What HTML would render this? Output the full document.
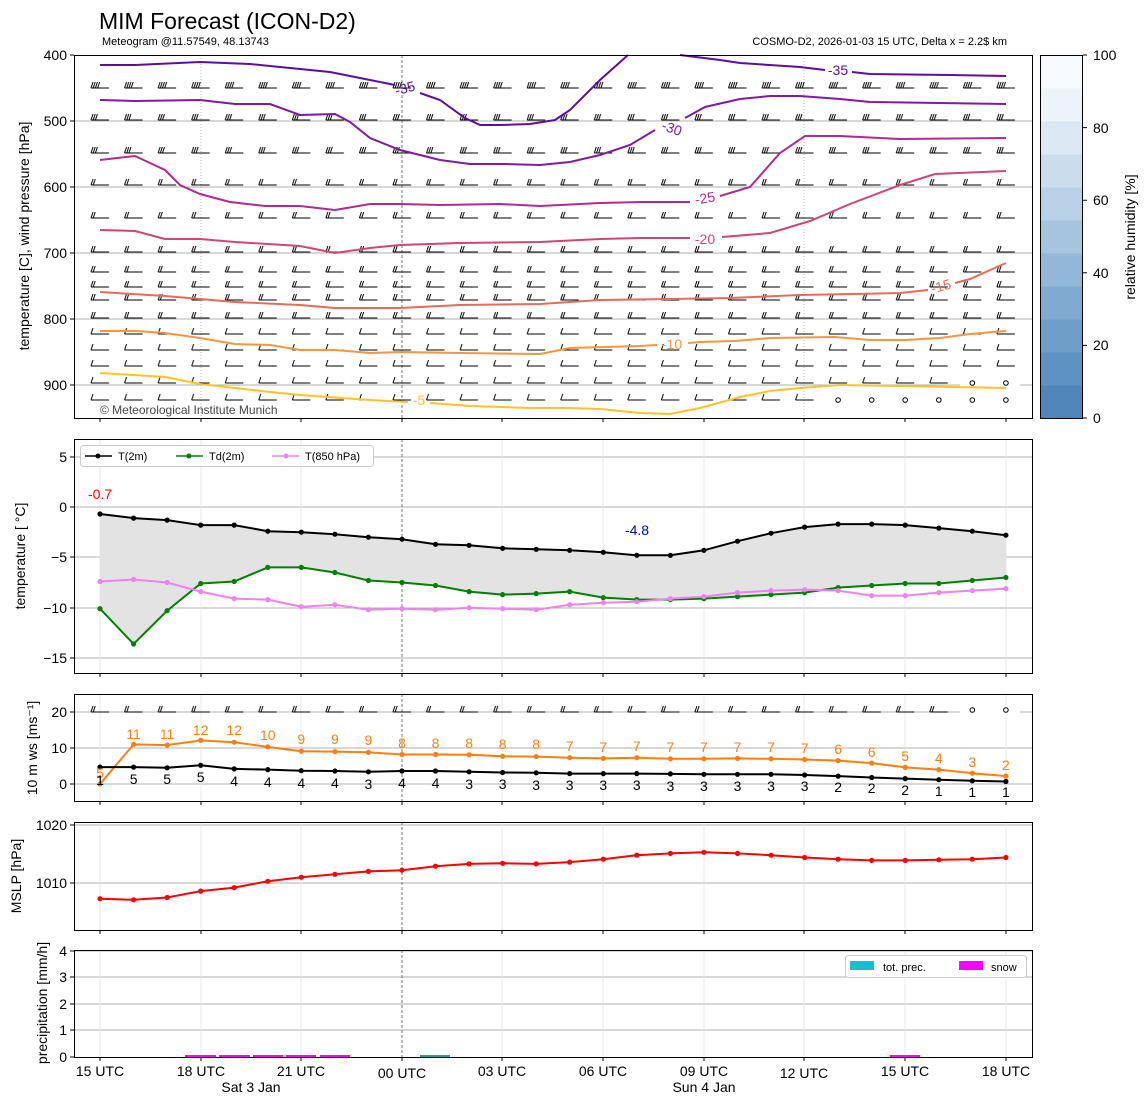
<!DOCTYPE html>
<html><head><meta charset="utf-8"><style>
body{margin:0;background:#fff;}
svg{display:block;font-family:"Liberation Sans","DejaVu Sans",sans-serif;}
</style></head><body>
<svg width="1148" height="1105" xmlns="http://www.w3.org/2000/svg" xmlns:xlink="http://www.w3.org/1999/xlink">
<defs>
<marker id="mk" markerWidth="8" markerHeight="8" refX="4" refY="4" markerUnits="userSpaceOnUse"><circle cx="4" cy="4" r="2.6" fill="#000"/></marker>
<marker id="mg" markerWidth="8" markerHeight="8" refX="4" refY="4" markerUnits="userSpaceOnUse"><circle cx="4" cy="4" r="2.6" fill="green"/></marker>
<marker id="mv" markerWidth="8" markerHeight="8" refX="4" refY="4" markerUnits="userSpaceOnUse"><circle cx="4" cy="4" r="2.6" fill="violet"/></marker>
<marker id="mo" markerWidth="8" markerHeight="8" refX="4" refY="4" markerUnits="userSpaceOnUse"><circle cx="4" cy="4" r="2.6" fill="#ff7f0e"/></marker>
<marker id="mr" markerWidth="8" markerHeight="8" refX="4" refY="4" markerUnits="userSpaceOnUse"><circle cx="4" cy="4" r="2.6" fill="#f00"/></marker>
<pattern id="b1" x="83.225" y="0" width="33.55" height="12" patternUnits="userSpaceOnUse"><g stroke="#000" stroke-width="1"><line x1="7.8" y1="8" x2="25.8" y2="8"/><line x1="7.8" y1="8" x2="9.8" y2="2"/></g></pattern>
<pattern id="b2" x="83.225" y="0" width="33.55" height="12" patternUnits="userSpaceOnUse"><g stroke="#000" stroke-width="1"><line x1="7.8" y1="8" x2="25.8" y2="8"/><line x1="7.8" y1="8" x2="9.8" y2="2"/><line x1="10" y1="8" x2="12" y2="2"/></g></pattern>
<pattern id="b3" x="83.225" y="0" width="33.55" height="12" patternUnits="userSpaceOnUse"><g stroke="#000" stroke-width="1"><line x1="7.8" y1="8" x2="25.8" y2="8"/><line x1="7.8" y1="8" x2="9.8" y2="2"/><line x1="10" y1="8" x2="12" y2="2"/><line x1="12.2" y1="8" x2="14.2" y2="2"/></g></pattern>
<pattern id="b4" x="83.225" y="0" width="33.55" height="12" patternUnits="userSpaceOnUse"><g stroke="#000" stroke-width="1"><line x1="7.8" y1="8" x2="25.8" y2="8"/><line x1="7.8" y1="8" x2="9.8" y2="2"/><line x1="10" y1="8" x2="12" y2="2"/><line x1="12.2" y1="8" x2="14.2" y2="2"/><line x1="14.4" y1="8" x2="16.4" y2="2"/></g></pattern>
<pattern id="b5" x="83.225" y="0" width="33.55" height="12" patternUnits="userSpaceOnUse"><g stroke="#000" stroke-width="1"><line x1="7.8" y1="8" x2="25.8" y2="8"/><line x1="7.8" y1="8" x2="9.8" y2="2"/><line x1="10" y1="8" x2="12" y2="2"/><line x1="12.2" y1="8" x2="14.2" y2="2"/><line x1="14.4" y1="8" x2="16.4" y2="2"/><line x1="16.6" y1="8" x2="18.6" y2="2"/></g></pattern>
<rect id="r1" x="83" y="0" width="940" height="12" fill="url(#b1)"/>
<rect id="r2" x="83" y="0" width="940" height="12" fill="url(#b2)"/>
<rect id="r3" x="83" y="0" width="940" height="12" fill="url(#b3)"/>
<rect id="r4" x="83" y="0" width="940" height="12" fill="url(#b4)"/>
<rect id="r5" x="83" y="0" width="940" height="12" fill="url(#b5)"/>
</defs>
<rect width="1148" height="1105" fill="#fff"/>
<text x="99" y="29" font-size="23">MIM Forecast (ICON-D2)</text>
<text x="102" y="45" font-size="11">Meteogram @11.57549, 48.13743</text>
<text x="1007" y="45" font-size="11" text-anchor="end">COSMO-D2, 2026-01-03 15 UTC, Delta x = 2.2$ km</text>

<!-- grids -->
<g stroke="#b0b0b0" stroke-width="1">
<path d="M74 121H1032M74 187H1032M74 253H1032M74 319H1032M74 385H1032"/>
<path d="M74 457H1032M74 507H1032M74 557H1032M74 608H1032M74 658H1032"/>
<path d="M74 712H1032M74 748H1032M74 784H1032"/>
<path d="M74 825H1032M74 883H1032"/>
<path d="M74 951H1032M74 977H1032M74 1004H1032M74 1030H1032"/>
</g>
<g stroke="#aaa" stroke-width="0.8" stroke-dasharray="1,2"><path d="M201 55V418M804 55V418"/></g>
<g stroke="#e4e4e4" stroke-width="0.8">
<path d="M100 439V673M201 439V673M301 439V673M502 439V673M603 439V673M704 439V673M804 439V673M905 439V673M1006 439V673"/>
<path d="M100 694V801M201 694V801M301 694V801M502 694V801M603 694V801M704 694V801M804 694V801M905 694V801M1006 694V801"/>
<path d="M100 822V930M201 822V930M301 822V930M502 822V930M603 822V930M704 822V930M804 822V930M905 822V930M1006 822V930"/>
<path d="M100 950V1057M201 950V1057M301 950V1057M502 950V1057M603 950V1057M704 950V1057M804 950V1057M905 950V1057M1006 950V1057"/>
</g>
<g stroke="#555" stroke-width="0.8" stroke-dasharray="3,2"><path d="M402 55V418M402 439V673M402 694V801M402 822V930M402 950V1057"/></g>
<g stroke="#000"><path d="M100 418v4M201 418v4M301 418v4M402 418v4M502 418v4M603 418v4M704 418v4M804 418v4M905 418v4M1006 418v4
M100 673v4M201 673v4M301 673v4M402 673v4M502 673v4M603 673v4M704 673v4M804 673v4M905 673v4M1006 673v4
M100 801v4M201 801v4M301 801v4M402 801v4M502 801v4M603 801v4M704 801v4M804 801v4M905 801v4M1006 801v4
M100 930v4M201 930v4M301 930v4M402 930v4M502 930v4M603 930v4M704 930v4M804 930v4M905 930v4M1006 930v4
M100 1057v4M201 1057v4M301 1057v4M402 1057v4M502 1057v4M603 1057v4M704 1057v4M804 1057v4M905 1057v4M1006 1057v4
M74 121h-4M74 187h-4M74 253h-4M74 319h-4M74 385h-4M74 55h-4M74 457h-4M74 507h-4M74 557h-4M74 608h-4M74 658h-4M74 712h-4M74 748h-4M74 784h-4M74 825h-4M74 883h-4M74 951h-4M74 977h-4M74 1004h-4M74 1030h-4M74 1057h-4"/></g>

<!-- barbs -->
<svg x="74" y="55" width="958" height="363" viewBox="74 55 958 363" overflow="hidden">
<use xlink:href="#r5" y="47"/>
<use xlink:href="#r4" y="80"/>
<use xlink:href="#r3" y="112"/>
<use xlink:href="#r3" y="145"/>
<use xlink:href="#r2" y="177"/>
<use xlink:href="#r2" y="210"/>
<use xlink:href="#r2" y="244"/>
<use xlink:href="#r2" y="264"/>
<use xlink:href="#r2" y="279"/>
<use xlink:href="#r2" y="292"/>
<use xlink:href="#r2" y="310"/>
<use xlink:href="#r1" y="326"/>
<use xlink:href="#r1" y="342"/>
<use xlink:href="#r1" y="358"/>
<use xlink:href="#r1" y="375"/>
<use xlink:href="#r1" y="392"/>
</svg>
<rect x="825" y="393" width="195" height="11" fill="#fff"/>
<rect x="960" y="376" width="60" height="11" fill="#fff"/>
<g fill="none" stroke="#000" stroke-width="1">
<circle cx="838.1" cy="400" r="2.3"/><circle cx="871.7" cy="400" r="2.3"/><circle cx="905.2" cy="400" r="2.3"/><circle cx="938.8" cy="400" r="2.3"/><circle cx="972.3" cy="400" r="2.3"/><circle cx="1005.9" cy="400" r="2.3"/>
<circle cx="972.3" cy="383" r="2.3"/><circle cx="1005.9" cy="383" r="2.3"/>
</g>
<use xlink:href="#r2" y="704"/>
<rect x="960" y="705" width="60" height="11" fill="#fff"/>
<g fill="none" stroke="#000" stroke-width="1"><circle cx="972.3" cy="710" r="2.3"/><circle cx="1005.9" cy="710" r="2.3"/></g>

<!-- contours -->
<g fill="none" stroke-width="2">
<polyline stroke="#5a0fa0" points="100,65 135,65 200,62 250,64 300,69 330,72 370,80 395,85"/>
<polyline stroke="#5a0fa0" points="420,93 440,100 465,118 480,125 500,125 530,124 555,120 570,110 600,80 628,55"/>
<polyline stroke="#5a0fa0" points="680,55 720,60 740,63 800,67 825,70"/>
<polyline stroke="#5a0fa0" points="852,72 870,74 950,75 1006,76"/>
<polyline stroke="#7e1ba6" points="100,100 135,101 200,100 235,104 270,104 300,115 335,114 350,122 370,138 400,150 440,160 470,164 505,164 540,165 570,162 600,155 630,145 655,130"/>
<polyline stroke="#7e1ba6" points="685,118 705,107 740,99 770,96 800,96 840,99 870,102 1006,104"/>
<polyline stroke="#b12a90" points="100,160 135,156 165,170 180,185 200,194 230,202 265,206 300,206 335,210 370,204 400,204 440,205 500,204 540,206 600,203 640,202 690,202"/>
<polyline stroke="#b12a90" points="720,196 750,187 780,153 805,136 840,136 900,139 1006,138"/>
<polyline stroke="#cc4778" points="100,230 135,231 165,239 200,239 235,242 300,246 335,253 370,248 400,245 460,243 540,242 600,239 640,238 690,238"/>
<polyline stroke="#cc4778" points="722,237 770,233 810,221 850,204 900,185 935,174 1006,171"/>
<polyline stroke="#e56b5d" points="100,292 165,296 235,302 300,305 335,308 400,308 460,305 540,304 600,300 670,299 730,298 800,295 900,293 928,290"/>
<polyline stroke="#e56b5d" points="955,283 970,279 1006,263"/>
<polyline stroke="#f89540" points="100,331 135,331 165,333 200,338 235,344 270,345 300,350 335,350 370,353 400,352 460,353 540,354 570,348 640,346 657,345"/>
<polyline stroke="#f89540" points="688,343 700,342 735,341 770,338 835,337 870,340 905,340 940,338 970,334 1006,331"/>
<polyline stroke="#fdc328" points="100,373 165,377 200,384 235,388 270,392 300,395 370,400 408,402"/>
<polyline stroke="#fdc328" points="430,403 470,406 530,408 570,408 600,409 640,413 670,414 700,408 740,397 770,391 800,388 840,385 900,386 1006,388"/>
</g>
<g font-size="14" text-anchor="middle">
<text x="405" y="93" fill="#5a0fa0" transform="rotate(-15 405 88)">-35</text>
<text x="838" y="75" fill="#5a0fa0">-35</text>
<text x="672" y="133" fill="#7e1ba6" transform="rotate(20 672 128)">-30</text>
<text x="705" y="203" fill="#b12a90" transform="rotate(-10 705 198)">-25</text>
<text x="705" y="244" fill="#cc4778">-20</text>
<text x="941" y="291" fill="#e56b5d" transform="rotate(-15 941 286)">-15</text>
<text x="672" y="349" fill="#f89540">-10</text>
<text x="419" y="405" fill="#fdc328">-5</text>
</g>
<text x="100" y="414" font-size="12" fill="#444">© Meteorological Institute Munich</text>

<!-- panel 2 -->
<polygon fill="#e3e3e3" points="100,514 133.6,518.1 167.1,520.1 200.7,525.1 234.2,525.1 267.8,531.2 301.3,532.2 334.9,534.2 368.4,537.2 402,539.2 435.5,544.3 469.1,545.3 502.6,548.3 536.2,549.3 569.7,550.3 603.3,552.3 636.8,555.3 670.4,555.3 703.9,550.3 737.5,541.2 771,533.2 804.6,527.1 838.1,524.1 871.7,524.1 905.2,525.1 938.8,528.1 972.3,531.2 1005.9,535.2 1005.9,577.5 972.3,580.5 938.8,583.5 905.2,583.5 871.7,585.5 838.1,587.6 804.6,592.6 771,594.6 737.5,596.6 703.9,598.6 670.4,599.6 636.8,599.6 603.3,597.6 569.7,591.6 536.2,593.6 502.6,594.6 469.1,591.6 435.5,585.5 402,582.5 368.4,580.5 334.9,572.5 301.3,567.4 267.8,567.4 234.2,581.5 200.7,583.5 167.1,610.7 133.6,644 100,608.7"/>
<g fill="none" stroke-width="2">
<polyline stroke="green" marker-start="url(#mg)" marker-mid="url(#mg)" marker-end="url(#mg)" points="100,608.7 133.6,644 167.1,610.7 200.7,583.5 234.2,581.5 267.8,567.4 301.3,567.4 334.9,572.5 368.4,580.5 402,582.5 435.5,585.5 469.1,591.6 502.6,594.6 536.2,593.6 569.7,591.6 603.3,597.6 636.8,599.6 670.4,599.6 703.9,598.6 737.5,596.6 771,594.6 804.6,592.6 838.1,587.6 871.7,585.5 905.2,583.5 938.8,583.5 972.3,580.5 1005.9,577.5"/>
<polyline stroke="violet" marker-start="url(#mv)" marker-mid="url(#mv)" marker-end="url(#mv)" points="100,581.5 133.6,579.5 167.1,582.5 200.7,591.6 234.2,598.6 267.8,599.6 301.3,606.7 334.9,604.7 368.4,609.7 402,608.7 435.5,609.7 469.1,607.7 502.6,608.7 536.2,609.7 569.7,604.7 603.3,602.7 636.8,601.7 670.4,598.6 703.9,596.6 737.5,592.6 771,590.6 804.6,589.6 838.1,590.6 871.7,595.6 905.2,595.6 938.8,592.6 972.3,590.6 1005.9,588.6"/>
<polyline stroke="#000" marker-start="url(#mk)" marker-mid="url(#mk)" marker-end="url(#mk)" points="100,514 133.6,518.1 167.1,520.1 200.7,525.1 234.2,525.1 267.8,531.2 301.3,532.2 334.9,534.2 368.4,537.2 402,539.2 435.5,544.3 469.1,545.3 502.6,548.3 536.2,549.3 569.7,550.3 603.3,552.3 636.8,555.3 670.4,555.3 703.9,550.3 737.5,541.2 771,533.2 804.6,527.1 838.1,524.1 871.7,524.1 905.2,525.1 938.8,528.1 972.3,531.2 1005.9,535.2"/>
</g>
<text x="100" y="499" font-size="14" fill="#f00" text-anchor="middle">-0.7</text>
<text x="637" y="535" font-size="14" fill="#00c" text-anchor="middle">-4.8</text>
<rect x="80.5" y="445.5" width="293" height="21" rx="3" fill="#fff" stroke="#ccc"/>
<g font-size="11">
<line x1="85" y1="456" x2="112" y2="456" stroke="#000" stroke-width="1.5"/><circle cx="98" cy="456" r="2.5"/>
<text x="118" y="460">T(2m)</text>
<line x1="176" y1="456" x2="203" y2="456" stroke="green" stroke-width="1.5"/><circle cx="189" cy="456" r="2.5" fill="green"/>
<text x="209" y="460">Td(2m)</text>
<line x1="272" y1="456" x2="299" y2="456" stroke="violet" stroke-width="1.5"/><circle cx="286" cy="456" r="2.5" fill="violet"/>
<text x="305" y="460">T(850 hPa)</text>
</g>

<!-- panel 3 -->
<g fill="none" stroke-width="2">
<polyline stroke="#ff7f0e" marker-start="url(#mo)" marker-mid="url(#mo)" marker-end="url(#mo)" points="100,784 133.6,744.4 167.1,745.1 200.7,740.4 234.2,742.2 267.8,746.9 301.3,751.2 334.9,751.6 368.4,752.3 402,754.5 435.5,754.5 469.1,754.8 502.6,756.3 536.2,756.6 569.7,757.7 603.3,758.4 636.8,757.7 670.4,758.8 703.9,758.8 737.5,758.4 771,758.8 804.6,759.5 838.1,760.6 871.7,763.1 905.2,767.4 938.8,769.6 972.3,773.2 1005.9,776.1"/>
<polyline stroke="#000" marker-start="url(#mk)" marker-mid="url(#mk)" marker-end="url(#mk)" points="100,767.1 133.6,767.1 167.1,767.8 200.7,765.3 234.2,768.9 267.8,769.6 301.3,770.7 334.9,771 368.4,771.8 402,771 435.5,771 469.1,771.8 502.6,772.5 536.2,772.8 569.7,773.6 603.3,773.6 636.8,773.6 670.4,773.9 703.9,774.3 737.5,774.3 771,774.3 804.6,775 838.1,776.1 871.7,777.5 905.2,778.6 938.8,779.7 972.3,780.8 1005.9,781.5"/>
</g>
<g font-size="14" fill="#ff7f0e" text-anchor="middle">
<text x="100" y="778">5</text><text x="133.6" y="739">11</text><text x="167.1" y="739">11</text><text x="200.7" y="735">12</text><text x="234.2" y="735">12</text><text x="267.8" y="740">10</text><text x="301.3" y="744">9</text><text x="334.9" y="744">9</text><text x="368.4" y="745">9</text><text x="402" y="748">8</text><text x="435.5" y="748">8</text><text x="469.1" y="748">8</text><text x="502.6" y="749">8</text><text x="536.2" y="749">8</text><text x="569.7" y="751">7</text><text x="603.3" y="752">7</text><text x="636.8" y="751">7</text><text x="670.4" y="752">7</text><text x="703.9" y="752">7</text><text x="737.5" y="752">7</text><text x="771" y="752">7</text><text x="804.6" y="753">7</text><text x="838.1" y="754">6</text><text x="871.7" y="757">6</text><text x="905.2" y="761">5</text><text x="938.8" y="763">4</text><text x="972.3" y="767">3</text><text x="1005.9" y="770">2</text>
</g>
<g font-size="14" fill="#000" text-anchor="middle">
<text x="100" y="785">1</text><text x="133.6" y="784">5</text><text x="167.1" y="784">5</text><text x="200.7" y="782">5</text><text x="234.2" y="786">4</text><text x="267.8" y="787">4</text><text x="301.3" y="788">4</text><text x="334.9" y="788">4</text><text x="368.4" y="789">3</text><text x="402" y="788">4</text><text x="435.5" y="788">4</text><text x="469.1" y="789">3</text><text x="502.6" y="789">3</text><text x="536.2" y="790">3</text><text x="569.7" y="790">3</text><text x="603.3" y="790">3</text><text x="636.8" y="790">3</text><text x="670.4" y="791">3</text><text x="703.9" y="791">3</text><text x="737.5" y="791">3</text><text x="771" y="791">3</text><text x="804.6" y="791">3</text><text x="838.1" y="792">2</text><text x="871.7" y="793">2</text><text x="905.2" y="795">2</text><text x="938.8" y="796">1</text><text x="972.3" y="797">1</text><text x="1005.9" y="797">1</text>
</g>

<!-- panel 4 -->
<polyline fill="none" stroke="#f00" stroke-width="2" marker-start="url(#mr)" marker-mid="url(#mr)" marker-end="url(#mr)" points="100,898.7 133.6,899.8 167.1,897.5 200.7,891.1 234.2,887.6 267.8,881.3 301.3,877.2 334.9,874.3 368.4,871.4 402,870.2 435.5,866.2 469.1,863.9 502.6,863.3 536.2,863.9 569.7,862.1 603.3,859.2 636.8,855.2 670.4,853.4 703.9,852.3 737.5,853.4 771,855.2 804.6,857.5 838.1,859.2 871.7,860.4 905.2,860.4 938.8,859.8 972.3,859.2 1005.9,857.5"/>

<!-- panel 5 -->
<g fill="#f0f"><rect x="185" y="1055" width="31" height="2"/><rect x="219" y="1055" width="31" height="2"/><rect x="253" y="1055" width="30" height="2"/><rect x="286" y="1055" width="30" height="2"/><rect x="320" y="1055" width="30" height="2"/><rect x="890" y="1055" width="30" height="2"/></g>
<rect x="420" y="1055" width="30" height="2" fill="#17a2a8"/>
<rect x="845.5" y="955.5" width="181" height="22" rx="3" fill="#fff" stroke="#ccc"/>
<rect x="850" y="961" width="24" height="9" fill="#17becf"/>
<text x="883" y="971" font-size="11">tot. prec.</text>
<rect x="959" y="961" width="24" height="9" fill="#f0f"/>
<text x="991" y="971" font-size="11">snow</text>

<!-- frames -->
<g fill="none" stroke="#000" stroke-width="1">
<rect x="74.5" y="55.5" width="958" height="363"/>
<rect x="74.5" y="439.5" width="958" height="234"/>
<rect x="74.5" y="694.5" width="958" height="107"/>
<rect x="74.5" y="822.5" width="958" height="108"/>
<rect x="74.5" y="950.5" width="958" height="107"/>
</g>

<!-- colorbar -->
<rect x="1040.5" y="385" width="42" height="33" fill="#4f86b9"/>
<rect x="1040.5" y="352" width="42" height="33.5" fill="#5e92c1"/>
<rect x="1040.5" y="319" width="42" height="33.5" fill="#6f9ec8"/>
<rect x="1040.5" y="286" width="42" height="33.5" fill="#80aacf"/>
<rect x="1040.5" y="253" width="42" height="33.5" fill="#93b7d7"/>
<rect x="1040.5" y="220" width="42" height="33.5" fill="#a6c4de"/>
<rect x="1040.5" y="187" width="42" height="33.5" fill="#b9d1e6"/>
<rect x="1040.5" y="154" width="42" height="33.5" fill="#cbdded"/>
<rect x="1040.5" y="121" width="42" height="33.5" fill="#dce8f3"/>
<rect x="1040.5" y="88" width="42" height="33.5" fill="#ecf3f9"/>
<rect x="1040.5" y="55" width="42" height="33.5" fill="#f6fafd"/>
<rect x="1040.5" y="55.5" width="42" height="363" fill="none" stroke="#000"/>
<path d="M1083 418h4M1083 345.4h4M1083 272.8h4M1083 200.2h4M1083 127.6h4M1083 55h4" stroke="#000"/>
<g font-size="14">
<text x="1093" y="60">100</text><text x="1093" y="133">80</text><text x="1093" y="205">60</text><text x="1093" y="278">40</text><text x="1093" y="350">20</text><text x="1093" y="423">0</text>
</g>
<text transform="translate(1135,237) rotate(-90)" font-size="14" text-anchor="middle">relative humidity [%]</text>

<!-- y tick labels -->
<g font-size="14" text-anchor="end">
<text x="67" y="60">400</text><text x="67" y="126">500</text><text x="67" y="192">600</text><text x="67" y="258">700</text><text x="67" y="324">800</text><text x="67" y="390">900</text>
<text x="67" y="462">5</text><text x="67" y="512">0</text><text x="67" y="562">−5</text><text x="67" y="613">−10</text><text x="67" y="663">−15</text>
<text x="67" y="717">20</text><text x="67" y="753">10</text><text x="67" y="789">0</text>
<text x="67" y="830">1020</text><text x="67" y="888">1010</text>
<text x="67" y="956">4</text><text x="67" y="982">3</text><text x="67" y="1009">2</text><text x="67" y="1035">1</text><text x="67" y="1062">0</text>
</g>
<g font-size="14" text-anchor="middle">
<text transform="translate(29,236) rotate(-90)">temperature [C], wind pressure [hPa]</text>
<text transform="translate(25,556) rotate(-90)">temperature [ °C]</text>
<text transform="translate(37,748) rotate(-90)">10 m ws [ms⁻¹]</text>
<text transform="translate(21,876) rotate(-90)">MSLP [hPa]</text>
<text transform="translate(47,1003) rotate(-90)">precipitation [mm/h]</text>
</g>
<g font-size="14" text-anchor="middle">
<text x="100" y="1076">15 UTC</text><text x="201" y="1076">18 UTC</text><text x="301" y="1076">21 UTC</text><text x="402" y="1078">00 UTC</text><text x="502" y="1076">03 UTC</text><text x="603" y="1076">06 UTC</text><text x="704" y="1076">09 UTC</text><text x="804" y="1078">12 UTC</text><text x="905" y="1076">15 UTC</text><text x="1006" y="1076">18 UTC</text>
<text x="251" y="1092">Sat 3 Jan</text><text x="704" y="1092">Sun 4 Jan</text>
</g>
</svg>
</body></html>
